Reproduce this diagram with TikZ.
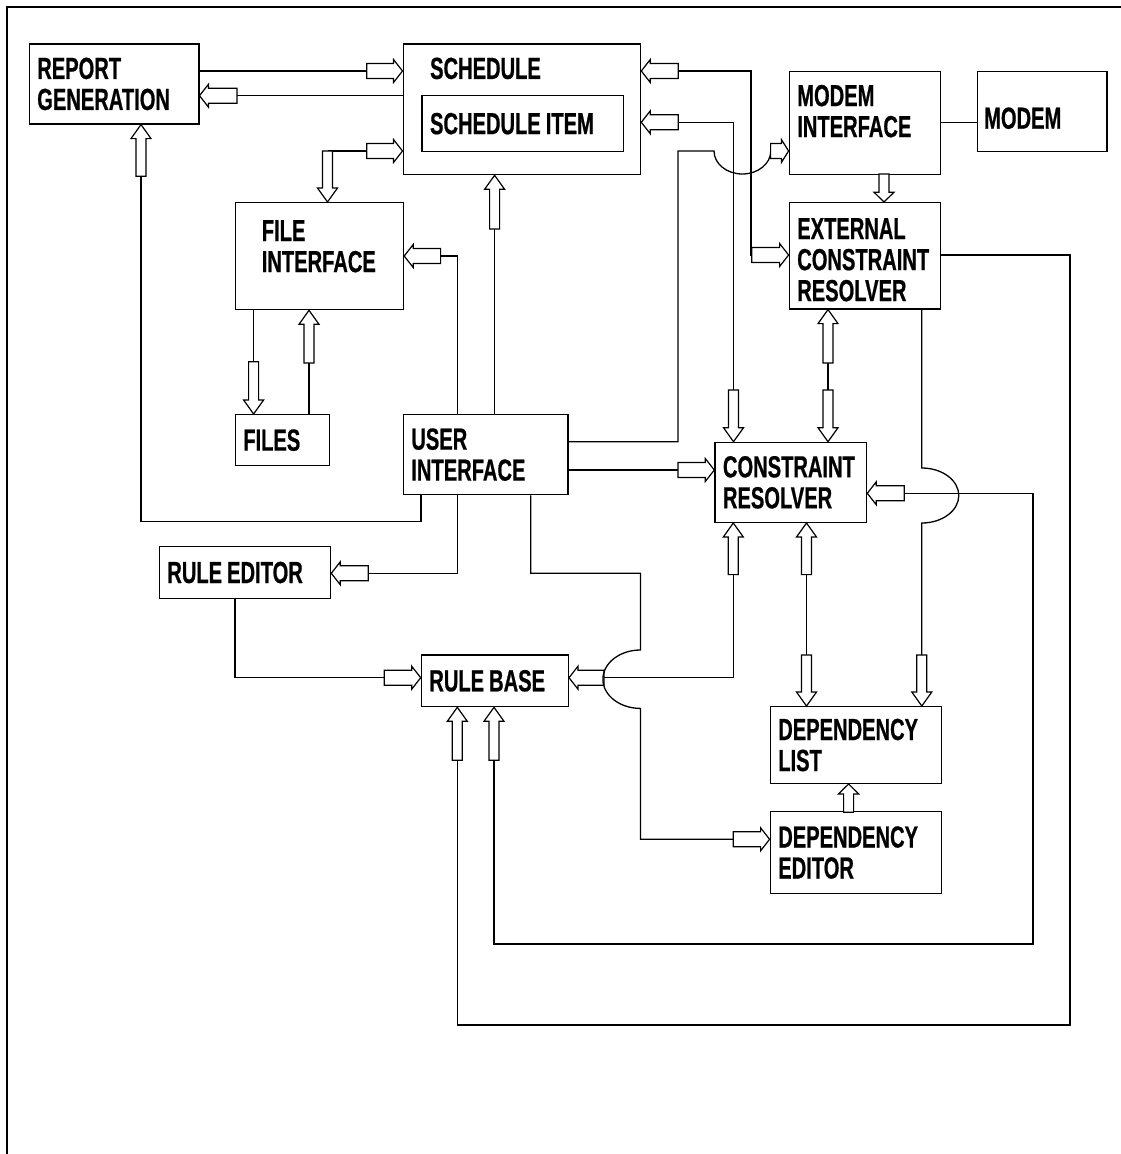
\documentclass[tikz,border=0pt]{standalone}
\usepackage{fontspec}
\newfontfamily\boxfont[FakeStretch=0.66,FakeBold=0.6]{Liberation Sans Bold}
\newcommand{\boxtext}{\boxfont\fontsize{30.5}{31}\selectfont}
% invisible struts that move a box text up or down
\newcommand{\lowpad}[1]{\rule[-#1]{0pt}{#1}}
\newcommand{\toppad}[1]{\rule{0pt}{#1}}
\hyphenpenalty=10000
\exhyphenpenalty=10000
\tikzset{
  blk/.style={draw, line width=1.3pt, anchor=north west, align=left,
    inner xsep=8pt, inner ysep=0pt, font=\boxtext,
    execute at begin node={\spaceskip=5pt plus 1pt\relax}},
  link/.style={line width=1.3pt},
  pics/harr/.style={code={
    \pgfmathsetmacro\ahead{min(9,0.4*#1)}
    \filldraw[fill=white, line width=1.2pt, shorten <=0pt, shorten >=0pt]
      (0,0) -- (-\ahead,-11.5) -- (-\ahead,-7.5) -- (-#1,-7.5) -- (-#1,7.5)
      -- (-\ahead,7.5) -- (-\ahead,11.5) -- cycle;}},
  pics/varr/.style={code={
    \pgfmathsetmacro\ahead{min(14,0.35*#1)}
    \filldraw[fill=white, line width=1.2pt, shorten <=0pt, shorten >=0pt]
      (0,0) -- (-10,-\ahead) -- (-5,-\ahead) -- (-5,-#1) -- (5,-#1)
      -- (5,-\ahead) -- (10,-\ahead) -- cycle;}},
}
\begin{document}
\begin{tikzpicture}[x=1pt,y=-1pt]
\useasboundingbox (0,0) rectangle (1121,1154);
\draw[line width=2.8pt] (1121,7) -- (7,7) -- (7,1154);

% boxes
\node[blk, text width=153.6pt, minimum height=80pt] (rep) at (28.6,43.3) {REPORT\\GENERATION};
\node[blk, inner xsep=27pt, text width=183.5pt, minimum height=130.7pt] (sch) at (402.5,43.3) {SCHEDULE\lowpad{82pt}};
\node[blk, text width=185.1pt, minimum height=56pt] (item) at (421.4,95) {SCHEDULE ITEM};
\node[blk, text width=135pt, minimum height=103.3pt] (mif) at (788.6,70.7) {MODEM\\INTERFACE\lowpad{24pt}};
\node[blk, inner xsep=6.5pt, text width=116.4pt, minimum height=80pt] (modem) at (977,70.7) {\toppad{35pt}MODEM};
\node[blk, text width=135pt, minimum height=106.3pt] (ecr) at (788.6,202) {\toppad{29pt}EXTERNAL\\CONSTRAINT\\RESOLVER};
\node[blk, inner xsep=26.5pt, text width=115.3pt, minimum height=107pt] (fif) at (234.6,202) {FILE\\INTERFACE\lowpad{20pt}};
\node[blk, text width=78.4pt, minimum height=51pt] (files) at (234.6,414) {FILES};
\node[blk, text width=148.6pt, minimum height=80pt] (ui) at (402.7,414) {USER\\INTERFACE};
\node[blk, text width=135.7pt, minimum height=80pt] (cr) at (714.3,441.7) {CONSTRAINT\\RESOLVER};
\node[blk, text width=155.3pt, minimum height=51.7pt] (redit) at (158.7,546) {RULE EDITOR};
\node[blk, text width=131pt, minimum height=51.7pt] (rbase) at (420.7,654.3) {RULE BASE};
\node[blk, text width=155.1pt, minimum height=76.7pt] (dlist) at (769.6,706) {DEPENDENCY\\LIST};
\node[blk, text width=155.1pt, minimum height=81.7pt] (dedit) at (769.6,811) {DEPENDENCY\\EDITOR};

% schedule and report
\draw[link, shorten >=35.7pt] (rep.east |- 0,71) -- (sch.west |- 0,71) pic{harr=35.7};
\draw[link, shorten >=37.5pt] (sch.west |- 0,95.7) -- (rep.east |- 0,95.7) pic[xscale=-1]{harr=37.5};
\draw[link, shorten >=51.7pt] (ui.south -| 421,0) -- (421,521.7) -- (141,521.7) -- (rep.south -| 141,0) pic[yscale=-1]{varr=51.7};

% file interface
\draw[link, shorten <=51pt, shorten >=35.7pt] (fif.north -| 327.5,0) -- (327.5,151) -- (sch.west |- 0,151) pic{harr=35.7};
\path (fif.north -| 327.5,0) pic{varr=51};
\draw[link, shorten >=36.4pt] (ui.north -| 457.7,0) -- (457.7,256) -- (fif.east |- 0,256) pic[xscale=-1]{harr=36.4};
\draw[link, shorten >=53.7pt] (ui.north -| 494.6,0) -- (sch.south -| 494.6,0) pic[yscale=-1]{varr=53.7};
\draw[link, shorten >=52.3pt] (fif.south -| 253.6,0) -- (files.north -| 253.6,0) pic{varr=52.3};
\draw[link, shorten >=52.7pt] (files.north -| 309,0) -- (fif.south -| 309,0) pic[yscale=-1]{varr=52.7};

% schedule to the resolvers
\draw[link, shorten <=37pt, shorten >=36.8pt] (sch.east |- 0,71) -- (751,71) -- (751,255) -- (ecr.west |- 0,255) pic{harr=36.8};
\path (sch.east |- 0,71) pic[xscale=-1]{harr=37};
\draw[link, shorten <=37pt, shorten >=51.7pt] (sch.east |- 0,122.3) -- (733.5,122.3) -- (cr.north -| 733.5,0) pic{varr=51.7};
\path (sch.east |- 0,122.3) pic[xscale=-1]{harr=37};

% modem side
\draw[link, shorten >=18pt] (ui.east |- 0,441.7) -- (677.9,441.7) -- (677.9,151) -- (714,151)
  arc[start angle=180, end angle=0, x radius=28.4, y radius=23] -- (mif.west |- 0,151) pic{harr=18};
\draw[link] (mif.east |- 0,122.3) -- (modem.west |- 0,122.3);
\draw[link, shorten >=28pt] (mif.south -| 884,0) -- (ecr.north -| 884,0) pic{varr=28};

% constraint resolvers
\draw[link, shorten <=53.4pt, shorten >=51.7pt] (ecr.south -| 828,0) -- (cr.north -| 828,0) pic{varr=51.7};
\path (ecr.south -| 828,0) pic[yscale=-1]{varr=53.4};
\draw[link, shorten >=36.4pt] (ui.east |- 0,470) -- (cr.west |- 0,470) pic{harr=36.4};
\draw[link, shorten <=53pt, shorten >=37pt] (rbase.south -| 494,0) -- (494,944) -- (1033,944) -- (1033,493.3) -- (cr.east |- 0,493.3) pic[xscale=-1]{harr=37};
\path (rbase.south -| 494,0) pic[yscale=-1]{varr=53};
\draw[link, shorten >=51pt] (ecr.south -| 921.8,0) -- (921.8,468)
  arc[start angle=-90, end angle=90, x radius=37, y radius=27.5] -- (dlist.north -| 921.8,0) pic{varr=51};
\draw[link, shorten >=53pt] (ecr.east |- 0,255) -- (1070,255) -- (1070,1025) -- (457.3,1025) -- (rbase.south -| 457.3,0) pic[yscale=-1]{varr=53};

% rule base and dependencies
\draw[link, shorten <=51.6pt, shorten >=35pt] (cr.south -| 733.3,0) -- (733.3,677.7) -- (rbase.east |- 0,677.7) pic[xscale=-1]{harr=35};
\path (cr.south -| 733.3,0) pic[yscale=-1]{varr=51.6};
\draw[link, shorten >=36.4pt] (ui.south -| 530.7,0) -- (530.7,573.3) -- (640.4,573.3) -- (640.4,650)
  arc[start angle=-90, end angle=-270, x radius=37.5, y radius=29.2] -- (640.4,839.3) -- (dedit.west |- 0,839.3) pic{harr=36.4};
\draw[link, shorten >=37pt] (ui.south -| 457.7,0) -- (457.7,573.3) -- (redit.east |- 0,573.3) pic[xscale=-1]{harr=37};
\draw[link, shorten >=36.4pt] (redit.south -| 235,0) -- (235,677.7) -- (rbase.west |- 0,677.7) pic{harr=36.4};
\draw[link, shorten >=28.3pt] (dedit.north -| 848.6,0) -- (dlist.south -| 848.6,0) pic[yscale=-1]{varr=28.3};
\draw[link, shorten <=51.6pt, shorten >=51pt] (cr.south -| 806.5,0) -- (dlist.north -| 806.5,0) pic{varr=51};
\path (cr.south -| 806.5,0) pic[yscale=-1]{varr=51.6};
\end{tikzpicture}
\end{document}
